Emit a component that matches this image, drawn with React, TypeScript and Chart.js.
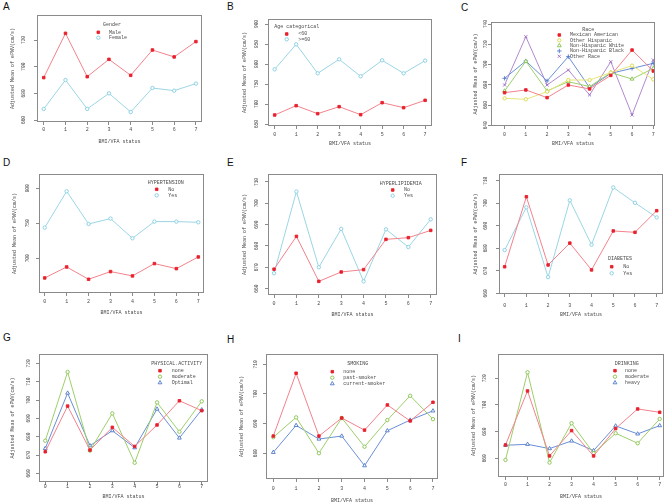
import React, { useEffect, useRef } from "react";
import { Chart, registerables } from "chart.js";
import { drawPoint } from "chart.js/helpers";

Chart.register(...registerables);

// ---------- data ----------
const bmiVfaStatus = [0, 1, 2, 3, 4, 5, 6, 7];
const xTickLabels = ["0", "1", "2", "3", "4", "5", "6", "7"];
const yAxisTitle = "Adjusted Mean of ePWV(cm/s)";
const xAxisTitle = "BMI/VFA status";

// A: Gender
const genderLabels = ["Male", "Female"];
const genderMale = [691.8, 725.0, 692.5, 705.5, 693.5, 712.5, 707.3, 718.8];
const genderFemale = [668.3, 690.0, 668.3, 680.0, 666.0, 684.0, 682.0, 687.3];
const genderTicks = [660, 680, 700, 720];

// B: Age categorical
const ageLabels = ["<60", ">=60"];
const ageUnder60 = [672.5, 695.8, 675.8, 693.3, 673.3, 703.3, 690.8, 709.2];
const age60Plus = [786.7, 849.2, 776.7, 811.7, 769.2, 809.2, 776.7, 808.3];
const ageTicks = [650, 700, 750, 800, 850, 900];

// C: Race
const raceLabels = ["Mexican American", "Other Hispanic", "Non-Hispanic White", "Non-Hispanic Black", "Other Race"];
const raceMexican = [672.2, 674.9, 667.3, 679.8, 675.9, 689.3, 714.3, 693.6];
const raceOtherHispanic = [666.6, 665.7, 673.2, 684.7, 684.7, 692.0, 698.9, 685.4];
const raceWhite = [673.9, 703.2, 673.9, 683.1, 678.2, 692.0, 685.7, 696.2];
const raceBlack = [686.4, 703.5, 683.8, 707.8, 677.2, 691.3, 696.2, 701.2];
const raceOther = [679.8, 727.5, 679.8, 694.6, 670.0, 702.8, 650.2, 704.5];
const raceTicks = [640, 660, 680, 700, 720, 740];

// D: Hypertension
const htLabels = ["No", "Yes"];
const htNo = [671.9, 687.6, 670.0, 681.0, 674.8, 692.4, 685.2, 701.9];
const htYes = [743.8, 795.7, 749.0, 756.7, 728.6, 752.4, 752.4, 751.4];
const htTicks = [700, 750, 800];

// E: Hyperlipidemia
const hlLabels = ["No", "Yes"];
const hlNo = [669.1, 684.5, 663.4, 667.8, 668.9, 683.1, 683.9, 687.3];
const hlYes = [667.2, 705.5, 670.0, 688.0, 663.4, 687.8, 679.5, 692.5];
const hlTicks = [660, 670, 680, 690, 700, 710];

// F: Diabetes
const dmLabels = ["No", "Yes"];
const dmNo = [671.8, 702.9, 672.6, 682.3, 670.4, 687.7, 687.1, 696.7];
const dmYes = [679.2, 698.2, 667.2, 701.3, 681.6, 707.0, 700.2, 693.7];
const dmTicks = [660, 670, 680, 690, 700, 710];

// G: Physical activity
const paLabels = ["none", "moderate", "Optimal"];
const paNone = [671.8, 696.7, 672.7, 685.1, 674.7, 686.4, 699.6, 694.2];
const paModerate = [677.8, 715.3, 672.4, 692.7, 665.8, 698.7, 682.7, 699.3];
const paOptimal = [673.6, 703.8, 675.1, 683.3, 674.0, 695.1, 679.3, 694.7];
const paTicks = [660, 670, 680, 690, 700, 710, 720];

// H: Smoking
const smLabels = ["none", "past-smoker", "current-smoker"];
const smNone = [685.8, 707.0, 685.8, 691.9, 687.8, 696.3, 690.9, 697.2];
const smPast = [685.4, 692.1, 680.0, 691.9, 682.2, 691.2, 699.4, 691.5];
const smCurrent = [680.3, 689.4, 684.8, 685.8, 675.8, 687.6, 691.2, 694.3];
const smTicks = [680, 690, 700, 710];

// I: Drinking
const drLabels = ["none", "moderate", "heavy"];
const drNone = [670.0, 710.5, 661.8, 680.8, 661.8, 682.3, 697.0, 694.5];
const drModerate = [658.8, 724.5, 656.8, 686.3, 663.8, 678.8, 671.3, 689.5];
const drHeavy = [669.8, 670.5, 667.3, 673.0, 665.8, 684.3, 678.3, 684.5];
const drTicks = [660, 680, 700, 720];

// ---------- styles ----------
const W = 669;
const H = 504;
const FONT = "'Liberation Mono', 'DejaVu Sans Mono', monospace";
const TEXT = "#4a4a4a";
const AXIS = "#8a8a8a";

type Style = { line: string; point: string; fill: string; style: string; radius: number };
const RED: Style = { line: "#F3828C", point: "#E8202C", fill: "#E8202C", style: "rect", radius: 1.8 };
const CYAN: Style = { line: "#9AD6E4", point: "#84CDE0", fill: "#ffffff", style: "circle", radius: 1.7 };
const YELLOW: Style = { line: "#E6E67A", point: "#D8D846", fill: "#ffffff", style: "circle", radius: 1.7 };
const GREEN_T: Style = { line: "#9CCF6A", point: "#86C24E", fill: "#ffffff", style: "triangle", radius: 2.2 };
const GREEN_C: Style = { line: "#9CCF6A", point: "#86C24E", fill: "#ffffff", style: "circle", radius: 1.7 };
const BLUE_P: Style = { line: "#6A8FD6", point: "#4F79C9", fill: "#ffffff", style: "cross", radius: 2.2 };
const BLUE_T: Style = { line: "#6A8FD6", point: "#4F79C9", fill: "#ffffff", style: "triangle", radius: 2.2 };
const PURPLE: Style = { line: "#B18AD0", point: "#9C6CC4", fill: "#ffffff", style: "crossRot", radius: 2.2 };

type Series = { label: string; values: number[]; st: Style };
type PanelCfg = {
  letter: string; lx: number; ly: number;
  box: { l: number; t: number; r: number; b: number };
  yMin: number; yMax: number; xMin: number; xMax: number; yTicks: number[];
  yTickOff: number; yTitleOff: number; xLabelOff: number; xTitleOff: number;
  legend: { title: string; titleX: number; titleY: number; markerX: number; textX: number; y0: number; dy: number };
  series: Series[];
};

const panels: PanelCfg[] = [
  {
    letter: "A", lx: 3, ly: 2, box: { l: 37, t: 15, r: 202, b: 122 },
    yMin: 658.5, yMax: 738.75, xMin: -0.31, xMax: 7.28, yTicks: genderTicks,
    yTickOff: 13, yTitleOff: 24, xLabelOff: 8, xTitleOff: 20,
    legend: { title: "Gender", titleX: 112, titleY: 25, markerX: 98.3, textX: 109, y0: 32.3, dy: 5.4 },
    series: [
      { label: genderLabels[0], values: genderMale, st: RED },
      { label: genderLabels[1], values: genderFemale, st: CYAN },
    ],
  },
  {
    letter: "B", lx: 227, ly: 2, box: { l: 268, t: 19, r: 432, b: 126 },
    yMin: 645, yMax: 912.5, xMin: -0.31, xMax: 7.32, yTicks: ageTicks,
    yTickOff: 11.3, yTitleOff: 23, xLabelOff: 9, xTitleOff: 18,
    legend: { title: "Age categorical", titleX: 296.7, titleY: 26.7, markerX: 286.7, textX: 298.3, y0: 34, dy: 5.3 },
    series: [
      { label: ageLabels[0], values: ageUnder60, st: RED },
      { label: ageLabels[1], values: age60Plus, st: CYAN },
    ],
  },
  {
    letter: "C", lx: 461, ly: 3, box: { l: 491, t: 22, r: 655, b: 126 },
    yMin: 639.3, yMax: 742, xMin: -0.64, xMax: 7.08, yTicks: raceTicks,
    yTickOff: 5, yTitleOff: 15, xLabelOff: 9, xTitleOff: 18,
    legend: { title: "Race", titleX: 588.3, titleY: 29.3, markerX: 559.3, textX: 570, y0: 35, dy: 5.33 },
    series: [
      { label: raceLabels[0], values: raceMexican, st: RED },
      { label: raceLabels[1], values: raceOtherHispanic, st: YELLOW },
      { label: raceLabels[2], values: raceWhite, st: GREEN_T },
      { label: raceLabels[3], values: raceBlack, st: BLUE_P },
      { label: raceLabels[4], values: raceOther, st: PURPLE },
    ],
  },
  {
    letter: "D", lx: 3, ly: 158, box: { l: 39, t: 174, r: 204, b: 293 },
    yMin: 650.4, yMax: 820.4, xMin: -0.26, xMax: 7.26, yTicks: htTicks,
    yTickOff: 11, yTitleOff: 24, xLabelOff: 9, xTitleOff: 20,
    legend: { title: "HYPERTENSION", titleX: 165.7, titleY: 182.7, markerX: 156.7, textX: 168.3, y0: 189.3, dy: 6 },
    series: [
      { label: htLabels[0], values: htNo, st: RED },
      { label: htLabels[1], values: htYes, st: CYAN },
    ],
  },
  {
    letter: "E", lx: 227, ly: 158, box: { l: 268, t: 174, r: 437, b: 295 },
    yMin: 657, yMax: 713.75, xMin: -0.27, xMax: 7.28, yTicks: hlTicks,
    yTickOff: 11, yTitleOff: 23, xLabelOff: 9, xTitleOff: 20,
    legend: { title: "HYPERLIPIDEMIA", titleX: 400.7, titleY: 183.3, markerX: 392.7, textX: 404, y0: 190, dy: 5.7 },
    series: [
      { label: hlLabels[0], values: hlNo, st: RED },
      { label: hlLabels[1], values: hlYes, st: CYAN },
    ],
  },
  {
    letter: "F", lx: 461, ly: 158, box: { l: 499, t: 174, r: 663, b: 294 },
    yMin: 659.7, yMax: 713, xMin: -0.26, xMax: 7.29, yTicks: dmTicks,
    yTickOff: 13, yTitleOff: 23.6, xLabelOff: 12, xTitleOff: 21,
    legend: { title: "DIABETES", titleX: 620, titleY: 259, markerX: 611.7, textX: 623.3, y0: 266.7, dy: 6.6 },
    series: [
      { label: dmLabels[0], values: dmNo, st: RED },
      { label: dmLabels[1], values: dmYes, st: CYAN },
    ],
  },
  {
    letter: "G", lx: 3, ly: 333, box: { l: 39, t: 354, r: 208, b: 482 },
    yMin: 655.3, yMax: 725.1, xMin: -0.28, xMax: 7.28, yTicks: paTicks,
    yTickOff: 10, yTitleOff: 26, xLabelOff: 5, xTitleOff: 15,
    legend: { title: "PHYSICAL.ACTIVITY", titleX: 176.7, titleY: 363.3, markerX: 160, textX: 171.7, y0: 370.7, dy: 6 },
    series: [
      { label: paLabels[0], values: paNone, st: RED },
      { label: paLabels[1], values: paModerate, st: GREEN_C },
      { label: paLabels[2], values: paOptimal, st: BLUE_T },
    ],
  },
  {
    letter: "H", lx: 227, ly: 335, box: { l: 266, t: 354, r: 438, b: 479 },
    yMin: 671.3, yMax: 713.5, xMin: -0.32, xMax: 7.22, yTicks: smTicks,
    yTickOff: 10.3, yTitleOff: 24.3, xLabelOff: 10, xTitleOff: 22,
    legend: { title: "SMOKING", titleX: 357.7, titleY: 363.3, markerX: 332.3, textX: 343.3, y0: 371.7, dy: 6 },
    series: [
      { label: smLabels[0], values: smNone, st: RED },
      { label: smLabels[1], values: smPast, st: GREEN_C },
      { label: smLabels[2], values: smCurrent, st: BLUE_T },
    ],
  },
  {
    letter: "I", lx: 458, ly: 334, box: { l: 498, t: 354, r: 666, b: 477 },
    yMin: 646, yMax: 738.2, xMin: -0.34, xMax: 7.2, yTicks: drTicks,
    yTickOff: 13.3, yTitleOff: 24, xLabelOff: 8, xTitleOff: 20,
    legend: { title: "DRINKING", titleX: 626.7, titleY: 363.3, markerX: 615, textX: 625, y0: 370.7, dy: 6 },
    series: [
      { label: drLabels[0], values: drNone, st: RED },
      { label: drLabels[1], values: drModerate, st: GREEN_C },
      { label: drLabels[2], values: drHeavy, st: BLUE_T },
    ],
  },
];

const Y_AXIS_W = 30;
const TICK_LEN = 3;
const TICK_FONT = 4.5;
const TITLE_FONT = 5;

function Panel({ cfg }: { cfg: PanelCfg }) {
  const ref = useRef<HTMLCanvasElement>(null);
  useEffect(() => {
    const canvas = ref.current;
    if (!canvas) return;
    const xH = cfg.xTitleOff + 3;
    const widestHalf = (3 * 0.6 * TICK_FONT) / 2;

    const boxPlugin = {
      id: "rBox",
      afterDatasetsDraw(chart: any) {
        const { ctx, chartArea } = chart;
        ctx.save();
        ctx.strokeStyle = AXIS;
        ctx.lineWidth = 1;
        ctx.strokeRect(
          Math.round(chartArea.left) + 0.5,
          Math.round(chartArea.top) + 0.5,
          Math.round(chartArea.right - chartArea.left) - 1,
          Math.round(chartArea.bottom - chartArea.top) - 1
        );
        ctx.restore();
      },
    };

    const legendPlugin = {
      id: "panelLegend",
      afterDraw(chart: any) {
        const ctx = chart.ctx;
        const lg = cfg.legend;
        ctx.save();
        ctx.font = `${TITLE_FONT}px ${FONT}`;
        ctx.fillStyle = TEXT;
        ctx.textAlign = "center";
        ctx.textBaseline = "middle";
        ctx.fillText(lg.title, lg.titleX, lg.titleY);
        ctx.textAlign = "left";
        cfg.series.forEach((s, i) => {
          const y = lg.y0 + i * lg.dy;
          ctx.fillStyle = s.st.fill;
          ctx.strokeStyle = s.st.point;
          ctx.lineWidth = 0.9;
          drawPoint(ctx, { pointStyle: s.st.style as any, radius: s.st.radius, borderWidth: 0.9, rotation: 0 }, lg.markerX, y);
          ctx.fillStyle = TEXT;
          ctx.fillText(s.label, lg.textX, y);
        });
        ctx.restore();
      },
    };

    const chart = new Chart(canvas, {
      type: "line",
      data: {
        datasets: cfg.series.map((s) => ({
          label: s.label,
          data: bmiVfaStatus.map((x, i) => ({ x, y: s.values[i] })),
          borderColor: s.st.line,
          borderWidth: 1,
          pointStyle: s.st.style as any,
          pointRadius: s.st.radius,
          pointBackgroundColor: s.st.fill,
          pointBorderColor: s.st.point,
          pointBorderWidth: 0.9,
          tension: 0,
          fill: false,
        })),
      },
      options: {
        responsive: false,
        animation: false,
        devicePixelRatio: 1,
        events: [],
        layout: {
          padding: {
            left: cfg.box.l - Y_AXIS_W,
            top: cfg.box.t,
            right: W - cfg.box.r,
            bottom: H - cfg.box.b - xH,
          },
        },
        plugins: { legend: { display: false }, tooltip: { enabled: false } },
        scales: {
          x: {
            type: "linear",
            min: cfg.xMin,
            max: cfg.xMax,
            afterBuildTicks: (sc: any) => {
              sc.ticks = bmiVfaStatus.map((v) => ({ value: v }));
            },
            afterFit: (sc: any) => {
              sc.height = xH;
            },
            ticks: {
              autoSkip: false,
              maxRotation: 0,
              minRotation: 0,
              padding: cfg.xLabelOff - TICK_LEN - 3,
              font: { family: FONT, size: TITLE_FONT },
              color: TEXT,
              callback: (v: any) => xTickLabels[bmiVfaStatus.indexOf(Number(v))] ?? "",
            },
            grid: { drawOnChartArea: false, drawTicks: true, tickLength: TICK_LEN, color: AXIS, lineWidth: 1 },
            border: { display: false },
            title: { display: true, text: xAxisTitle, color: TEXT, font: { family: FONT, size: TITLE_FONT }, padding: 0 },
          },
          y: {
            type: "linear",
            min: cfg.yMin,
            max: cfg.yMax,
            afterBuildTicks: (sc: any) => {
              sc.ticks = cfg.yTicks.map((v) => ({ value: v }));
            },
            afterFit: (sc: any) => {
              sc.width = Y_AXIS_W;
            },
            ticks: {
              autoSkip: false,
              minRotation: 90,
              maxRotation: 90,
              crossAlign: "center",
              padding: cfg.yTickOff - TICK_LEN - widestHalf,
              font: { family: FONT, size: TICK_FONT },
              color: TEXT,
              callback: (v: any) => String(v),
            },
            grid: { drawOnChartArea: false, drawTicks: true, tickLength: TICK_LEN, color: AXIS, lineWidth: 1 },
            border: { display: false },
            title: {
              display: true,
              text: yAxisTitle,
              color: TEXT,
              font: { family: FONT, size: TITLE_FONT },
              padding: { top: Y_AXIS_W - 3 - cfg.yTitleOff, bottom: 0 },
            },
          },
        },
      },
      plugins: [boxPlugin, legendPlugin],
    });
    return () => chart.destroy();
  }, [cfg]);
  return (
    <canvas
      ref={ref}
      width={W}
      height={H}
      style={{ position: "absolute", left: 0, top: 0, width: W, height: H }}
    />
  );
}

export default function App() {
  return (
    <div style={{ position: "absolute", left: 0, top: 0, width: W, height: H, background: "#ffffff", overflow: "hidden" }}>
      {panels.map((p) => (
        <div
          key={p.letter + "-lbl"}
          style={{
            position: "absolute",
            left: p.lx,
            top: p.ly,
            fontFamily: "'Liberation Sans', Arial, sans-serif",
            fontSize: 10,
            lineHeight: "10px",
            color: "#111",
          }}
        >
          {p.letter}
        </div>
      ))}
      {panels.map((p) => (
        <Panel key={p.letter} cfg={p} />
      ))}
    </div>
  );
}
